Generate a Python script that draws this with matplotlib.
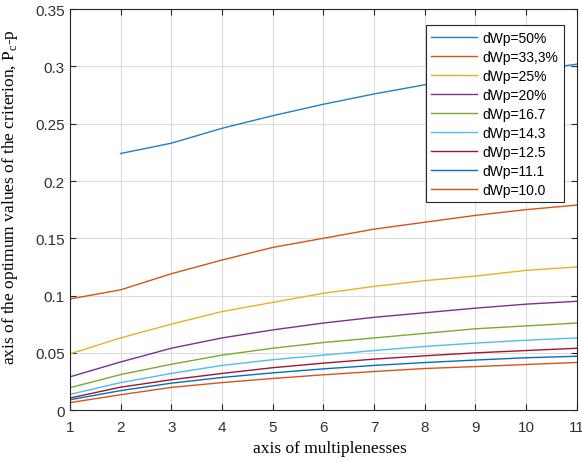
import numpy as np
import matplotlib
matplotlib.use('Agg')
import matplotlib.pyplot as plt

plt.rcParams['mathtext.fontset'] = 'custom'
plt.rcParams['mathtext.rm'] = 'Liberation Serif'

# multiplenesses on the x axis
x = np.arange(1, 12)

labels = ['dWp=50%', 'dWp=33,3%', 'dWp=25%', 'dWp=20%', 'dWp=16.7',
          'dWp=14.3', 'dWp=12.5', 'dWp=11.1', 'dWp=10.0']

# first series starts at x=2
p50 = [np.nan, 0.224, 0.233, 0.246, 0.257, 0.267, 0.276, 0.284, 0.290, 0.296, 0.302]
p333 = [0.097, 0.105, 0.119, 0.131, 0.142, 0.150, 0.158, 0.164, 0.170, 0.175, 0.179]
p25 = [0.049, 0.063, 0.075, 0.086, 0.094, 0.102, 0.108, 0.113, 0.117, 0.122, 0.125]
p20 = [0.029, 0.042, 0.054, 0.063, 0.070, 0.076, 0.081, 0.085, 0.089, 0.0925, 0.095]
p167 = [0.0195, 0.031, 0.040, 0.048, 0.054, 0.059, 0.063, 0.067, 0.071, 0.0735, 0.076]
p143 = [0.0137, 0.024, 0.032, 0.039, 0.044, 0.048, 0.052, 0.0556, 0.0585, 0.061, 0.063]
p125 = [0.0105, 0.020, 0.0265, 0.032, 0.037, 0.041, 0.0445, 0.0474, 0.050, 0.052, 0.054]
p111 = [0.009, 0.017, 0.0235, 0.0285, 0.0325, 0.036, 0.039, 0.0415, 0.0437, 0.0457, 0.047]
p100 = [0.0065, 0.0134, 0.0198, 0.024, 0.0276, 0.0308, 0.0337, 0.0363, 0.038, 0.0398, 0.0416]

series = [p50, p333, p25, p20, p167, p143, p125, p111, p100]

# matlab default line colours
colors = ['#1f80c8', '#D95319', '#EDB120', '#7E2F8E', '#77AC30',
          '#4DBEEE', '#A2142F', '#0072BD', '#D95319']

fig = plt.figure(figsize=(5.82, 4.64), dpi=100)
ax = fig.add_axes([0.120, 0.114, 0.871, 0.864])

for y, lab, c in zip(series, labels, colors):
    ax.plot(x, y, color=c, linewidth=1.0, label=lab)

ax.set_xlim(1, 11)
ax.set_ylim(0, 0.35)
ax.set_xticks(range(1, 12))
ax.set_yticks([0, 0.05, 0.1, 0.15, 0.2, 0.25, 0.3, 0.35])
ax.set_yticklabels(['0', '0.05', '0.1', '0.15', '0.2', '0.25', '0.3', '0.35'])
ax.grid(True, color='#dcdcdc', linewidth=0.8)
ax.set_axisbelow(True)
ax.tick_params(direction='in', top=True, right=True, length=4,
               labelsize=11, colors='#262626', labelcolor='#303030')
ax.tick_params(axis='x', pad=7)
for lab in ax.get_xticklabels() + ax.get_yticklabels():
    lab.set_family('Liberation Sans')
for s in ax.spines.values():
    s.set_color('#262626')
    s.set_linewidth(0.8)

ax.set_xlabel('axis of multiplenesses', family='Liberation Serif', fontsize=12.5, labelpad=2)
ax.set_ylabel(r'axis of the optimum values of the criterion, P$_{\mathrm{c}}$-p',
              family='Liberation Serif', fontsize=12.5, labelpad=3)
ax.xaxis.set_label_coords(0.513, -0.075)
ax.yaxis.set_label_coords(-0.098, 0.534)

leg = ax.legend(loc='upper right', bbox_to_anchor=(0.975, 0.96),
                prop={'family': 'Liberation Sans', 'size': 10},
                fancybox=False, framealpha=1, edgecolor='#262626',
                handlelength=3.3, handletextpad=0.4, labelspacing=0.36,
                borderpad=0.4, borderaxespad=0)
leg.get_frame().set_linewidth(0.8)

fig.savefig('out.png', dpi=100)
